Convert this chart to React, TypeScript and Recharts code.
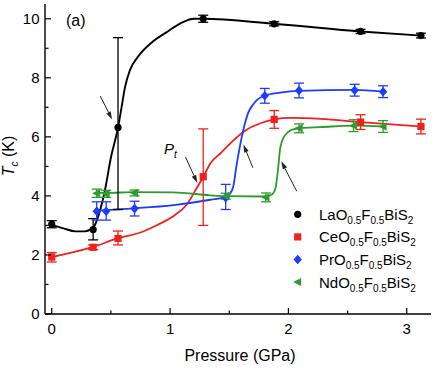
import React from "react";
import {
  ComposedChart,
  Line,
  Scatter,
  XAxis,
  YAxis,
  ErrorBar,
  ReferenceLine,
} from "recharts";

const FONT = "Arial, 'Liberation Sans', Helvetica, sans-serif";
const BLACK = "#000000";
const RED = "#f0201c";
const BLUE = "#1d3bff";
const GREEN = "#2d9b2d";

// measured points: pressure (GPa), Tc (K), error [below, above]
const laP = [0, 0.35, 0.56, 1.28, 1.88, 2.61, 3.12];
const laTc = [3.04, 2.86, 6.32, 10.0, 9.83, 9.57, 9.43];
const laErr = [[0.12, 0.12], [0.35, 0.37], [2.78, 3.04], [0.12, 0.12], [0.07, 0.07], [0.07, 0.07], [0.08, 0.08]];

const ceP = [0, 0.35, 0.56, 1.28, 1.88, 2.61, 3.12];
const ceTc = [1.93, 2.26, 2.56, 4.65, 6.59, 6.5, 6.35];
const ceErr = [[0.17, 0.15], [0.08, 0.08], [0.22, 0.25], [1.65, 1.62], [0.3, 0.3], [0.25, 0.25], [0.25, 0.25]];

const prP = [0.38, 0.46, 0.7, 1.47, 1.8, 2.09, 2.56, 2.8];
const prTc = [3.48, 3.48, 3.57, 3.94, 7.39, 7.57, 7.58, 7.53];
const prErr = [[0.3, 0.32], [0.3, 0.32], [0.25, 0.25], [0.4, 0.45], [0.25, 0.25], [0.25, 0.25], [0.2, 0.2], [0.2, 0.2]];

const ndP = [0.38, 0.46, 0.7, 1.47, 1.81, 2.09, 2.55, 2.8];
const ndTc = [4.09, 4.07, 4.1, 3.99, 3.95, 6.29, 6.38, 6.35];
const ndErr = [[0.14, 0.14], [0.12, 0.12], [0.1, 0.1], [0.1, 0.1], [0.15, 0.15], [0.15, 0.15], [0.2, 0.2], [0.2, 0.2]];

// guide-to-the-eye curves
const laFitP = [0, 0.1, 0.2, 0.28, 0.35, 0.4, 0.45, 0.5, 0.56, 0.59, 0.62, 0.66, 0.73, 0.84, 0.98, 1.1, 1.2, 1.28, 1.88, 2.61, 3.12];
const laFitTc = [3.02, 2.9, 2.8, 2.8, 2.92, 3.4, 4.2, 5.3, 6.31, 7.0, 7.7, 8.25, 8.72, 9.18, 9.57, 9.87, 10.0, 10.0, 9.83, 9.57, 9.43];

const ceFitP = [0, 0.35, 0.56, 0.75, 0.9, 1.03, 1.14, 1.23, 1.28, 1.34, 1.43, 1.54, 1.65, 1.77, 1.88, 2.02, 2.27, 2.61, 3.12];
const ceFitTc = [1.93, 2.27, 2.57, 2.76, 3.03, 3.32, 3.7, 4.3, 4.64, 5.1, 5.46, 5.9, 6.25, 6.47, 6.59, 6.64, 6.61, 6.5, 6.35];

const prFitP = [0.37, 0.46, 0.7, 1.03, 1.34, 1.47, 1.51, 1.535, 1.56, 1.59, 1.62, 1.66, 1.7, 1.8, 1.93, 2.09, 2.56, 2.8];
const prFitTc = [3.5, 3.52, 3.58, 3.69, 3.87, 3.97, 4.1, 4.33, 5.0, 5.68, 6.25, 6.81, 7.09, 7.4, 7.5, 7.56, 7.59, 7.53];

const ndFitP = [0.37, 0.46, 0.7, 1.03, 1.34, 1.47, 1.8, 1.86, 1.89, 1.915, 1.93, 1.97, 2.03, 2.1, 2.27, 2.56, 2.8];
const ndFitTc = [4.1, 4.1, 4.13, 4.12, 4.02, 3.99, 3.98, 4.05, 4.25, 5.0, 5.6, 6.05, 6.24, 6.3, 6.33, 6.38, 6.35];

// arrows: tail -> head, data coords
const arrowTail = [[0.41, 7.38], [1.13, 5.32], [1.7, 4.95], [2.07, 4.16]];
const arrowHead = [[0.51, 6.59], [1.23, 4.44], [1.62, 5.74], [1.94, 5.17]];

const xTicks = [0, 0.5, 1, 1.5, 2, 2.5, 3];
const yTicks = [0, 1, 2, 3, 4, 5, 6, 7, 8, 9, 10];

const pts = (xs: number[], ys: number[], es?: number[][]) =>
  xs.map((x, i) => ({ x, y: ys[i], err: es ? es[i] : undefined }));

const laData = pts(laP, laTc, laErr);
const ceData = pts(ceP, ceTc, ceErr);
const prData = pts(prP, prTc, prErr);
const ndData = pts(ndP, ndTc, ndErr);

const W = 436;
const H = 370;

function Circle({ cx, cy, fill = BLACK }: any) {
  return <circle cx={cx} cy={cy} r={3.6} fill={fill} />;
}
function Square({ cx, cy, fill = RED }: any) {
  return <rect x={cx - 3.6} y={cy - 3.6} width={7.2} height={7.2} fill={fill} />;
}
function Diamond({ cx, cy, fill = BLUE }: any) {
  return (
    <polygon
      points={`${cx},${cy - 4.8} ${cx + 4.2},${cy} ${cx},${cy + 4.8} ${cx - 4.2},${cy}`}
      fill={fill}
    />
  );
}
function TriLeft({ cx, cy, fill = GREEN }: any) {
  return (
    <polygon
      points={`${cx - 4.5},${cy} ${cx + 3.5},${cy - 4.2} ${cx + 3.5},${cy + 4.2}`}
      fill={fill}
    />
  );
}

function Arrow({ x1, y1, x2, y2 }: any) {
  const a = Math.atan2(y2 - y1, x2 - x1);
  const len = 8;
  const w = 2.4;
  const bx = x2 - len * Math.cos(a);
  const by = y2 - len * Math.sin(a);
  const px = -Math.sin(a) * w;
  const py = Math.cos(a) * w;
  return (
    <g>
      <line x1={x1} y1={y1} x2={bx} y2={by} stroke="#222" strokeWidth={1} />
      <polygon
        points={`${x2},${y2} ${bx + px},${by + py} ${bx - px},${by - py}`}
        fill="#222"
      />
    </g>
  );
}

function BottomTick({ x, y, payload }: any) {
  const major = Number.isInteger(payload.value);
  return (
    <g>
      <line x1={x} x2={x} y1={y} y2={y - (major ? 6 : 3.5)} stroke="#000" strokeWidth={1.2} />
      {major && (
        <text x={x} y={y + 19.5} textAnchor="middle" fontSize={15} fontFamily={FONT} fill="#000">
          {payload.value}
        </text>
      )}
    </g>
  );
}
function TopTick({ x, y, payload }: any) {
  const major = Number.isInteger(payload.value);
  return <line x1={x} x2={x} y1={y} y2={y + (major ? 6 : 3.5)} stroke="#000" strokeWidth={1.2} />;
}
function LeftTick({ x, y, payload }: any) {
  const major = payload.value % 2 === 0;
  return (
    <g>
      <line x1={x} x2={x + (major ? 6 : 3.5)} y1={y} y2={y} stroke="#000" strokeWidth={1.2} />
      {major && (
        <text x={x - 5.5} y={y + 5.4} textAnchor="end" fontSize={15} fontFamily={FONT} fill="#000">
          {payload.value}
        </text>
      )}
    </g>
  );
}
function RightTick({ x, y, payload }: any) {
  const major = payload.value % 2 === 0;
  return <line x1={x} x2={x - (major ? 6 : 3.5)} y1={y} y2={y} stroke="#000" strokeWidth={1.2} />;
}

const legendItems = [
  { el: "La", color: BLACK, Shape: Circle },
  { el: "Ce", color: RED, Shape: Square },
  { el: "Pr", color: BLUE, Shape: Diamond },
  { el: "Nd", color: GREEN, Shape: TriLeft },
];

function Formula({ el, x, y }: { el: string; x: number; y: number }) {
  return (
    <text x={x} y={y} fontSize={15} fontFamily={FONT} fill="#000">
      {el}O
      <tspan fontSize={10} dy={4}>0.5</tspan>
      <tspan dy={-4}>F</tspan>
      <tspan fontSize={10} dy={4}>0.5</tspan>
      <tspan dy={-4}>BiS</tspan>
      <tspan fontSize={10} dy={4}>2</tspan>
    </text>
  );
}

export default function App() {
  const domainX: [number, number] = [-0.057, 3.205];
  const domainY: [number, number] = [0, 10.5];
  return (
    <div style={{ position: "absolute", left: 0, top: 0, width: W, height: H, background: "#fff" }}>
      <ComposedChart width={W} height={H} margin={{ top: 4, right: 5, bottom: 0, left: 0 }}>
        <XAxis
          dataKey="x"
          type="number"
          domain={domainX}
          ticks={xTicks}
          interval={0}
          height={56}
          tickSize={0}
          tickMargin={0}
          tick={BottomTick}
          axisLine={{ stroke: "#000", strokeWidth: 1.4 }}
          allowDataOverflow
        />
        <XAxis
          xAxisId="t"
          orientation="top"
          dataKey="x"
          type="number"
          domain={domainX}
          ticks={xTicks}
          interval={0}
          height={0}
          tickSize={0}
          tickMargin={0}
          tick={TopTick}
          axisLine={{ stroke: "#000", strokeWidth: 1.4 }}
          allowDataOverflow
        />
        <YAxis
          type="number"
          domain={domainY}
          ticks={yTicks}
          interval={0}
          width={45}
          tickSize={0}
          tickMargin={0}
          tick={LeftTick}
          axisLine={{ stroke: "#000", strokeWidth: 1.4 }}
          allowDataOverflow
        />
        <YAxis
          yAxisId="r"
          orientation="right"
          type="number"
          domain={domainY}
          ticks={yTicks}
          interval={0}
          width={0}
          tickSize={0}
          tickMargin={0}
          tick={RightTick}
          axisLine={{ stroke: "#000", strokeWidth: 1.4 }}
          allowDataOverflow
        />

        <Line data={pts(laFitP, laFitTc)} dataKey="y" type="monotone" stroke={BLACK} strokeWidth={1.9} dot={false} isAnimationActive={false} />
        <Line data={pts(ceFitP, ceFitTc)} dataKey="y" type="monotone" stroke={RED} strokeWidth={1.8} dot={false} isAnimationActive={false} />
        <Line data={pts(prFitP, prFitTc)} dataKey="y" type="monotone" stroke={BLUE} strokeWidth={1.8} dot={false} isAnimationActive={false} />
        <Line data={pts(ndFitP, ndFitTc)} dataKey="y" type="monotone" stroke={GREEN} strokeWidth={1.8} dot={false} isAnimationActive={false} />

        {arrowTail.map((t, i) => (
          <ReferenceLine
            key={i}
            segment={[
              { x: t[0], y: t[1] },
              { x: arrowHead[i][0], y: arrowHead[i][1] },
            ]}
            shape={Arrow}
            ifOverflow="visible"
          />
        ))}

        <Scatter data={laData} dataKey="y" shape={Circle} isAnimationActive={false}>
          <ErrorBar dataKey="err" direction="y" width={5} stroke={BLACK} strokeWidth={1.3} isAnimationActive={false} />
        </Scatter>
        <Scatter data={ceData} dataKey="y" shape={Square} isAnimationActive={false}>
          <ErrorBar dataKey="err" direction="y" width={5} stroke={RED} strokeWidth={1.3} isAnimationActive={false} />
        </Scatter>
        <Scatter data={prData} dataKey="y" shape={Diamond} isAnimationActive={false}>
          <ErrorBar dataKey="err" direction="y" width={5} stroke={BLUE} strokeWidth={1.3} isAnimationActive={false} />
        </Scatter>
        <Scatter data={ndData} dataKey="y" shape={TriLeft} isAnimationActive={false}>
          <ErrorBar dataKey="err" direction="y" width={5} stroke={GREEN} strokeWidth={1.3} isAnimationActive={false} />
        </Scatter>
      </ComposedChart>

      {/* labels, annotations and legend */}
      <svg width={W} height={H} style={{ position: "absolute", left: 0, top: 0, pointerEvents: "none" }}>
        <text x={66} y={26} fontSize={16} fontFamily={FONT} fill="#000">(a)</text>
        <text x={164} y={153.5} fontSize={15} fontFamily={FONT} fontStyle="italic" fill="#000">
          P<tspan fontSize={10} dy={4}>t</tspan>
        </text>
        <text
          transform="translate(14,156) rotate(-90)"
          textAnchor="middle"
          fontSize={16}
          fontFamily={FONT}
          fill="#000"
        >
          <tspan fontStyle="italic">T</tspan>
          <tspan fontStyle="italic" fontSize={10} dy={4}>c</tspan>
          <tspan dy={-4}> (K)</tspan>
        </text>
        <text x={240} y={360.5} textAnchor="middle" fontSize={16} fontFamily={FONT} fill="#000">
          Pressure (GPa)
        </text>
        {legendItems.map((it, i) => {
          const cy = 214.3 + i * 22.6;
          const S = it.Shape;
          return (
            <g key={it.el}>
              <S cx={297.7} cy={cy} fill={it.color} />
              <Formula el={it.el} x={319} y={cy + 5.5} />
            </g>
          );
        })}
      </svg>
    </div>
  );
}
